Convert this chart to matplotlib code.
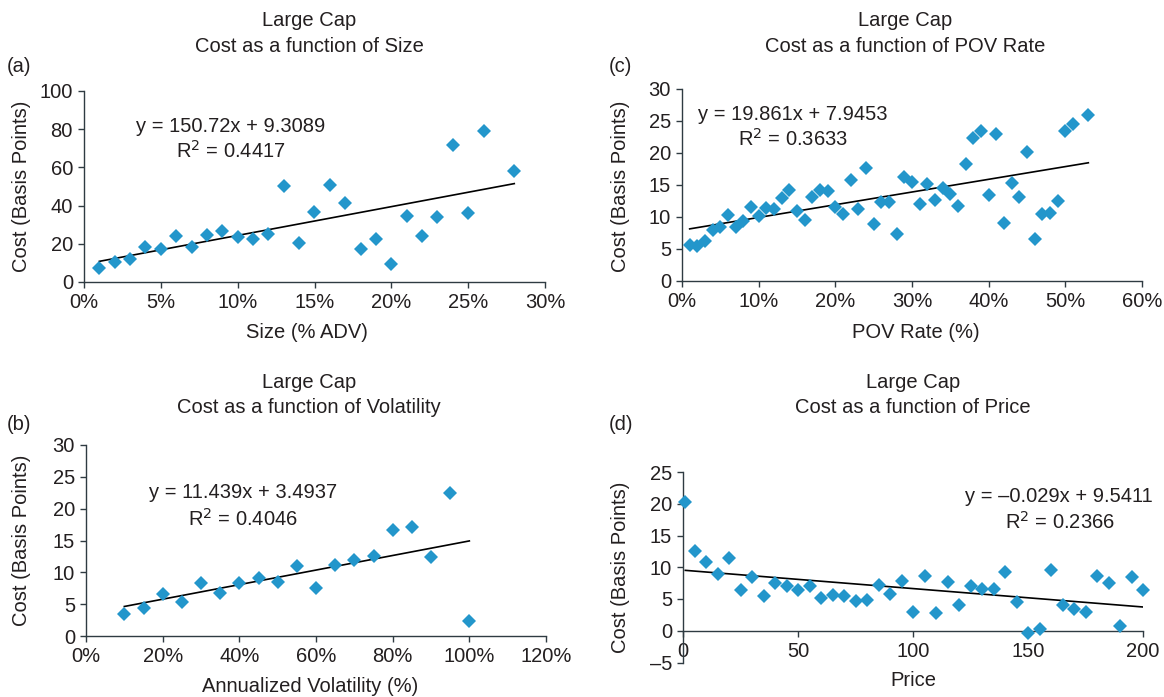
import matplotlib
matplotlib.use("Agg")
import matplotlib.pyplot as plt
import matplotlib.ticker as mticker
import numpy as np

plt.rcParams['font.family'] = ['Liberation Sans', 'DejaVu Sans']
plt.rcParams['font.size'] = 14.5

W, H = 1164, 697

# ---------------- data ----------------
size_x = [0.01, 0.02, 0.03, 0.04, 0.05, 0.06, 0.07, 0.08, 0.09, 0.10, 0.11, 0.12, 0.13, 0.14,
          0.15, 0.16, 0.17, 0.18, 0.19, 0.20, 0.21, 0.22, 0.23, 0.24, 0.25, 0.26, 0.28]
size_cost = [7.5, 10.5, 11.9, 18.4, 17.2, 24.2, 18.2, 24.7, 26.8, 23.7, 22.5, 24.9, 50.0, 20.5,
             36.8, 51.0, 41.2, 17.2, 22.5, 9.3, 34.7, 24.0, 34.2, 71.9, 36.0, 79.1, 58.2]
size_fit = (150.72, 9.3089)

pov_x = [0.01, 0.02, 0.03, 0.04, 0.05, 0.06, 0.07, 0.08, 0.09, 0.10, 0.11, 0.12, 0.13, 0.14,
         0.15, 0.16, 0.17, 0.18, 0.19, 0.20, 0.21, 0.22, 0.23, 0.24, 0.25, 0.26, 0.27, 0.28,
         0.29, 0.30, 0.31, 0.32, 0.33, 0.34, 0.35, 0.36, 0.37, 0.38, 0.39, 0.40, 0.41, 0.42,
         0.43, 0.44, 0.45, 0.46, 0.47, 0.48, 0.49, 0.50, 0.51, 0.53]
pov_cost = [5.7, 5.5, 6.3, 7.9, 8.5, 10.3, 8.4, 9.4, 11.6, 10.1, 11.4, 11.2, 12.9, 14.2,
            11.0, 9.6, 13.2, 14.2, 14.0, 11.5, 10.4, 15.8, 11.2, 17.6, 8.9, 12.3, 12.4, 7.3,
            16.2, 15.4, 12.0, 15.2, 12.7, 14.6, 13.6, 11.7, 18.3, 22.4, 23.5, 13.4, 23.0, 9.1,
            15.3, 13.1, 20.2, 6.5, 10.4, 10.6, 12.5, 23.5, 24.6, 25.9]
pov_fit = (19.861, 7.9453)

vol_x = [0.10, 0.15, 0.20, 0.25, 0.30, 0.35, 0.40, 0.45, 0.50, 0.55, 0.60, 0.65, 0.70, 0.75,
         0.80, 0.85, 0.90, 0.95, 1.00]
vol_cost = [3.4, 4.4, 6.6, 5.4, 8.3, 6.8, 8.3, 9.1, 8.5, 11.0, 7.6, 11.2, 11.9, 12.5,
            16.6, 17.1, 12.4, 22.5, 2.4]
vol_fit = (11.439, 3.4937)

price_x = [1, 5, 10, 15, 20, 25, 30, 35, 40, 45, 50, 55, 60, 65, 70, 75, 80, 85, 90, 95, 100,
           105, 110, 115, 120, 125, 130, 135, 140, 145, 150, 155, 160, 165, 170, 175, 180, 185,
           190, 195, 200]
price_cost = [20.2, 12.6, 10.8, 8.9, 11.4, 6.4, 8.4, 5.5, 7.5, 7.1, 6.4, 7.0, 5.1, 5.7, 5.5,
              4.7, 4.9, 7.2, 5.8, 7.9, 3.0, 8.7, 2.8, 7.7, 4.0, 7.1, 6.5, 6.5, 9.3, 4.5, -0.3,
              0.2, 9.5, 4.1, 3.5, 3.0, 8.7, 7.5, 0.7, 8.4, 6.4]
price_fit = (-0.029, 9.5411)

BLUE = '#2396CB'
TXT = '#231F20'
SPINE = '#2F3B42'

fig = plt.figure(figsize=(W / 100, H / 100), dpi=100)


def rect(x0, y0, x1, y1):
    return [x0 / W, 1 - y1 / H, (x1 - x0) / W, (y1 - y0) / H]


def ftext(x, y, s, **kw):
    fig.text(x / W, 1 - y / H, s, ha=kw.pop('ha', 'center'), va=kw.pop('va', 'center'),
             color=TXT, **kw)


def setup(ax, xlim, ylim, xticks, yticks, pct=False):
    ax.set_xlim(*xlim)
    ax.set_ylim(*ylim)
    ax.set_xticks(xticks)
    ax.set_yticks(yticks)
    for s in ['top', 'right']:
        ax.spines[s].set_visible(False)
    for s in ['left', 'bottom']:
        ax.spines[s].set_color(SPINE)
        ax.spines[s].set_linewidth(1.0)
    ax.tick_params(direction='out', length=4, width=1.0, color=SPINE, labelcolor=TXT,
                   labelsize=14.5, pad=4)
    if pct:
        ax.xaxis.set_major_formatter(mticker.FuncFormatter(lambda v, p: f"{v*100:.0f}%"))
    ax.yaxis.set_major_formatter(mticker.FuncFormatter(
        lambda v, p: f"{v:.0f}".replace('-', '\u2013')))
    ax.patch.set_alpha(0)


def scatter_fit(ax, x, y, fit):
    ax.plot(x, y, linestyle='none', marker='D', markersize=7, color=BLUE,
            markeredgewidth=0, clip_on=False, zorder=3)
    xs = np.array([x[0], x[-1]])
    ax.plot(xs, fit[0] * xs + fit[1], color='black', linewidth=1.2, zorder=2)


# (a) Size
ax = fig.add_axes(rect(84, 91, 545, 282))
setup(ax, (0, 0.30), (0, 100), np.arange(0, 0.301, 0.05), np.arange(0, 101, 20), pct=True)
scatter_fit(ax, size_x, size_cost, size_fit)
ftext(309, 21, "Large Cap")
ftext(309, 47, "Cost as a function of Size")
ftext(7, 66, "(a)", ha='left')
ftext(22, 186, "Cost (Basis Points)", rotation=90)
ftext(307, 333, "Size (% ADV)")
ftext(231, 127, "y = 150.72x + 9.3089")
ftext(231, 151, "R$^2$ = 0.4417")

# (c) POV rate
ax = fig.add_axes(rect(682, 89, 1142, 281))
setup(ax, (0, 0.60), (0, 30), np.arange(0, 0.601, 0.10), np.arange(0, 31, 5), pct=True)
scatter_fit(ax, pov_x, pov_cost, pov_fit)
ftext(905, 21, "Large Cap")
ftext(905, 47, "Cost as a function of POV Rate")
ftext(609, 66, "(c)", ha='left')
ftext(620, 186, "Cost (Basis Points)", rotation=90)
ftext(916, 333, "POV Rate (%)")
ftext(793, 114, "y = 19.861x + 7.9453")
ftext(793, 139, "R$^2$ = 0.3633")

# (b) Volatility
ax = fig.add_axes(rect(86, 445, 546, 636))
setup(ax, (0, 1.20), (0, 30), np.arange(0, 1.201, 0.20), np.arange(0, 31, 5), pct=True)
scatter_fit(ax, vol_x, vol_cost, vol_fit)
ftext(309, 382, "Large Cap")
ftext(309, 407, "Cost as a function of Volatility")
ftext(7, 425, "(b)", ha='left')
ftext(22, 540, "Cost (Basis Points)", rotation=90)
ftext(310, 687, "Annualized Volatility (%)")
ftext(243, 493, "y = 11.439x + 3.4937")
ftext(243, 519, "R$^2$ = 0.4046")

# (d) Price
ax = fig.add_axes(rect(683, 472, 1143, 662.5))
setup(ax, (0, 200), (-5, 25), np.arange(0, 201, 50), np.arange(-5, 26, 5))
ax.spines['bottom'].set_position(('data', 0))
scatter_fit(ax, price_x, price_cost, price_fit)
ftext(913, 382, "Large Cap")
ftext(913, 407, "Cost as a function of Price")
ftext(609, 425, "(d)", ha='left')
ftext(620, 567, "Cost (Basis Points)", rotation=90)
ftext(913, 680, "Price")
ftext(1059, 497, "y = \u20130.029x + 9.5411")
ftext(1060, 522, "R$^2$ = 0.2366")

fig.savefig("out.png", dpi=100)
